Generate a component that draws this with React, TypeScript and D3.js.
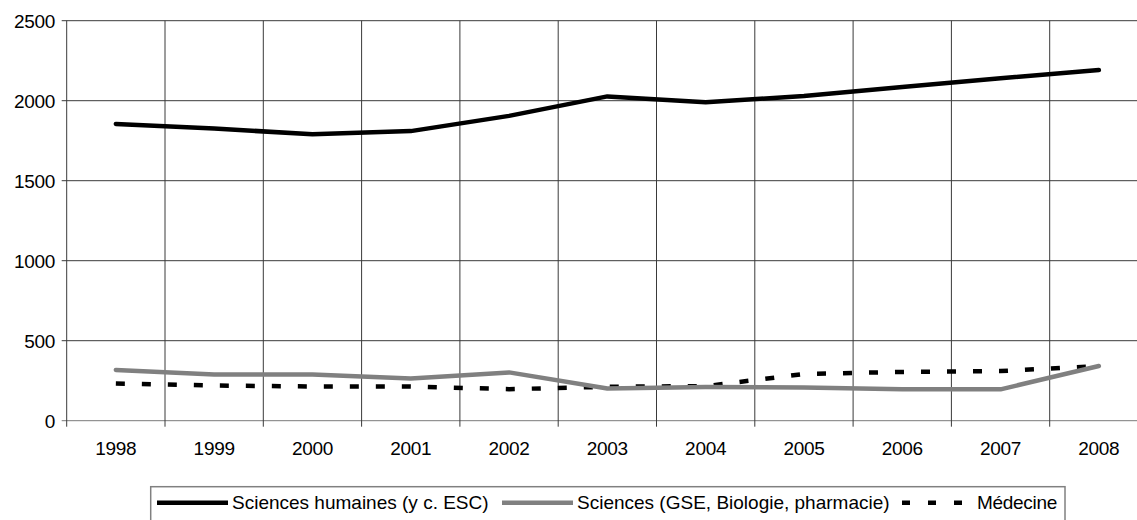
import React from "react";
import * as d3 from "d3";

const years = ["1998", "1999", "2000", "2001", "2002", "2003", "2004", "2005", "2006", "2007", "2008"];
const humaines = [1855, 1826, 1790, 1810, 1905, 2027, 1990, 2030, 2085, 2140, 2192];
const sciences = [317, 288, 288, 263, 302, 201, 210, 208, 196, 196, 342];
const medecine = [232, 220, 214, 214, 197, 212, 216, 292, 305, 310, 342];
const yTicks = [0, 500, 1000, 1500, 2000, 2500];

const seriesNames = ["Sciences humaines (y c. ESC)", "Sciences (GSE, Biologie, pharmacie)", "Médecine"];

const W = 1137;
const H = 520;
const left = 66.7;
const bandW = 98.3;

const font = "'Liberation Sans', Arial, sans-serif";

export default function App() {
  const x = d3.scaleBand<string>().domain(years).range([left, left + bandW * years.length]).padding(0);
  const y = d3.scaleLinear().domain([0, 2500]).range([420.7, 20.7]);
  const cx = (d: string) => (x(d) as number) + x.bandwidth() / 2;

  const line = d3
    .line<number>()
    .x((_, i) => cx(years[i]))
    .y((v) => y(v));

  const boundaries = years.map((d) => x(d) as number).concat([left + bandW * years.length]);

  return (
    <div style={{ position: "absolute", left: 0, top: 0, width: W, height: H, overflow: "hidden", background: "#fff" }}>
      <svg width={W} height={H} style={{ display: "block" }}>
        {/* horizontal grid */}
        {yTicks.map((t) => (
          <g key={t}>
            <line x1={left - 5} x2={W + 20} y1={y(t)} y2={y(t)} stroke={t === 0 ? "#7a7a7a" : "#3a3a3a"} strokeWidth={1} />
            <text x={55} y={y(t)} dy="0.36em" textAnchor="end" fontFamily={font} fontSize={19} letterSpacing={-0.3} fill="#000">
              {t}
            </text>
          </g>
        ))}
        {/* vertical grid + ticks */}
        {boundaries.map((b, i) => (
          <line key={i} x1={b} x2={b} y1={y(2500)} y2={y(0) + 6} stroke="#3a3a3a" strokeWidth={1} />
        ))}
        {years.map((d) => (
          <text key={d} x={cx(d)} y={455} textAnchor="middle" fontFamily={font} fontSize={19} letterSpacing={-0.3} fill="#000">
            {d}
          </text>
        ))}

        <path d={line(medecine) as string} fill="none" stroke="#000" strokeWidth={4.5} strokeDasharray="9 17" />
        <path d={line(sciences) as string} fill="none" stroke="#808080" strokeWidth={4.5} strokeLinejoin="round" strokeLinecap="round" />
        <path d={line(humaines) as string} fill="none" stroke="#000" strokeWidth={4.5} strokeLinejoin="round" strokeLinecap="round" />

        {/* legend */}
        <rect x={150.7} y={486.7} width={1065 - 150.7} height={60} fill="#fff" stroke="#808080" strokeWidth={1.5} />
        <line x1={157} x2={228} y1={502.7} y2={502.7} stroke="#000" strokeWidth={4.5} />
        <text x={232} y={509.3} fontFamily={font} fontSize={19} fill="#000">{seriesNames[0]}</text>
        <line x1={502} x2={573} y1={502.7} y2={502.7} stroke="#808080" strokeWidth={4.5} />
        <text x={577} y={509.3} fontFamily={font} fontSize={19} fill="#000">{seriesNames[1]}</text>
        <line x1={902} x2={962} y1={502.7} y2={502.7} stroke="#000" strokeWidth={4.5} strokeDasharray="8 18" />
        <text x={977} y={509.3} fontFamily={font} fontSize={19} letterSpacing={-0.3} fill="#000">{seriesNames[2]}</text>
      </svg>
    </div>
  );
}
